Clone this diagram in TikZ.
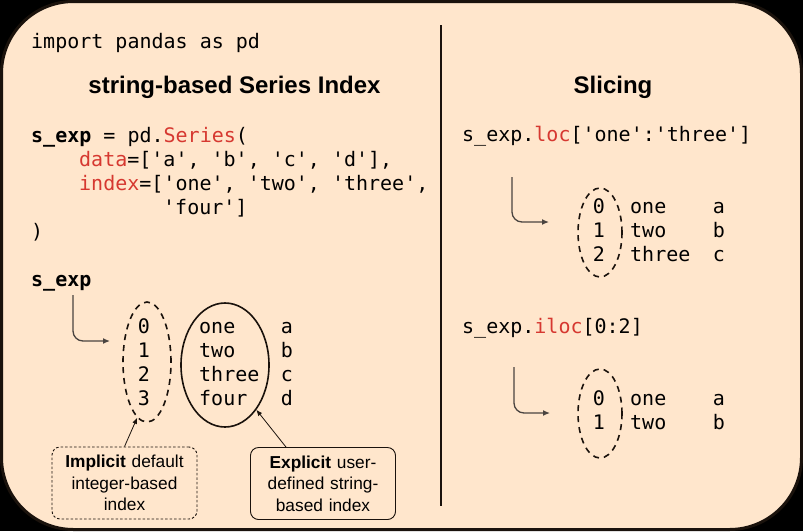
\documentclass[tikz,border=0pt]{standalone}
\usepackage{fontspec}
\setmainfont{Liberation Sans}
\setmonofont{DejaVu Sans Mono}
\usetikzlibrary{arrows.meta,shapes.geometric}
\definecolor{peach}{HTML}{FFE6CC}
\definecolor{codered}{RGB}{214,56,48}
\definecolor{edgecol}{HTML}{1A120C}
\definecolor{ptrcol}{HTML}{4A4440}
\begin{document}
\begin{tikzpicture}[x=1pt,y=-1pt,
  code/.style={anchor=base west,inner sep=0pt,font=\fontsize{20}{24}\selectfont\ttfamily},
  cell/.style={anchor=base,inner sep=0pt,font=\fontsize{20}{24}\selectfont\ttfamily},
  heading/.style={anchor=base,inner sep=0pt,font=\fontsize{24}{28}\selectfont\bfseries},
  note/.style={draw=edgecol,rounded corners=8pt,line width=0.9pt,align=center,
    minimum width=145pt,minimum height=72pt,text width=140pt,inner sep=0pt,
    font=\fontsize{17.3}{21.5}\selectfont},
  idxring/.style={ellipse,draw=edgecol,line width=1.6pt,dash pattern=on 6pt off 5pt,inner sep=0pt},
  userring/.style={ellipse,draw=edgecol,line width=1.6pt,inner sep=0pt},
  ptr/.style={draw=ptrcol,line width=1.3pt,rounded corners=10pt,-{Latex[length=7pt,width=6pt]}},
  thinptr/.style={draw=edgecol,line width=0.8pt,-{Latex[length=6pt,width=5pt]}},
]
\useasboundingbox (0,0) rectangle (803,531);
\fill[black] (0,0) rectangle (803,531);
\draw[edgecol,fill=peach,line width=3pt,rounded corners=72pt] (1.5,1.5) rectangle (801.5,529.5);
\coordinate (divtop) at (441,25);
\coordinate (divbot) at (441,506);
\draw[edgecol,line width=2.5pt] (divtop) -- (divbot);

% left code
\node[code] (imp) at (31,48) {import pandas as pd};
\node[heading] (h1) at (234.5,93) {string-based Series Index};
\node[code] (c1) at (31,142) {\textbf{s\_exp} = pd.\textcolor{codered}{Series}(};
\node[code] (c2) at (79,166) {\textcolor{codered}{data}=['a', 'b', 'c', 'd'],};
\node[code] (c3) at (79,190) {\textcolor{codered}{index}=['one', 'two', 'three',};
\node[code] (c4) at (163,214) {'four']};
\node[code] (c5) at (31,238) {)};
\node[code] (sexp) at (31,286) {\textbf{s\_exp}};

% left table
\foreach \i/\w/\v [count=\k from 0] in {0/one/a,1/two/b,2/three/c,3/four/d}{
  \node[cell] (ld\k) at (144,333+24*\k) {\i};
  \node[code] (lw\k) at (199,333+24*\k) {\w};
  \node[cell] (lv\k) at (287,333+24*\k) {\v};
}
\node[idxring,minimum width=48pt,minimum height=120pt] (ring1) at (147,362) {};
\node[userring,minimum width=88pt,minimum height=124pt] (ring2) at (225,365) {};

\coordinate (p1s) at (73,295);
\coordinate (p1e) at (110,341);
\draw[ptr] (p1s) |- (p1e);

\node[note,dash pattern=on 2.5pt off 2pt] (impl) at (124.5,483)
  {\textbf{Implicit} default\\integer-based\\index};
\node[note] (expl) at (323,483.5)
  {\textbf{Explicit} user-\\defined string-\\based index};
\draw[thinptr] (impl.north) -- (ring1.-100);
\draw[thinptr] ([xshift=-37pt]expl.north) -- (ring2.-55);

% right side
\node[heading] (h2) at (613,93) {Slicing};
\node[code] (loc) at (462,141) {s\_exp.\textcolor{codered}{loc}['one':'three']};
\foreach \i/\w/\v [count=\k from 0] in {0/one/a,1/two/b,2/three/c}{
  \node[cell] (rd\k) at (599,213+24*\k) {\i};
  \node[code] (rw\k) at (630,213+24*\k) {\w};
  \node[cell] (rv\k) at (719,213+24*\k) {\v};
}
\node[idxring,minimum width=44pt,minimum height=89pt] (ring3) at (600,232.5) {};
\coordinate (p2s) at (512,177);
\coordinate (p2e) at (549,222);
\draw[ptr] (p2s) |- (p2e);

\node[code] (iloc) at (462,333) {s\_exp.\textcolor{codered}{iloc}[0:2]};
\foreach \i/\w/\v [count=\k from 0] in {0/one/a,1/two/b}{
  \node[cell] (sd\k) at (599,405+24*\k) {\i};
  \node[code] (sw\k) at (630,405+24*\k) {\w};
  \node[cell] (sv\k) at (719,405+24*\k) {\v};
}
\node[idxring,minimum width=44pt,minimum height=89pt] (ring4) at (600,413.5) {};
\coordinate (p3s) at (514,367);
\coordinate (p3e) at (550,413);
\draw[ptr] (p3s) |- (p3e);
\end{tikzpicture}
\end{document}
